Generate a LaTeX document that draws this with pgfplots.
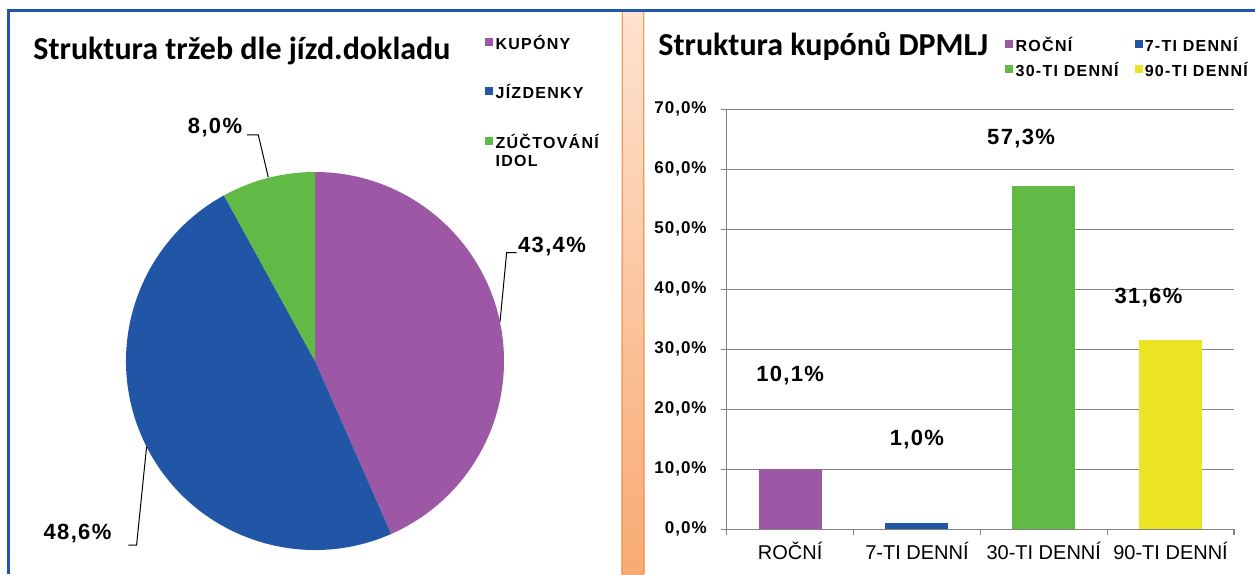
\documentclass[border=0pt]{standalone}
\usepackage{fontspec}
\setmainfont{Liberation Sans}
\newfontfamily\calibri{Carlito}
\newfontfamily\legfont[LetterSpace=8]{Liberation Sans}
\newfontfamily\numfont[LetterSpace=6]{Liberation Sans}
\usepackage{pgfplots}
\pgfplotsset{compat=1.18}
\definecolor{kup}{HTML}{9C57A5}
\definecolor{jiz}{HTML}{2155A5}
\definecolor{zuc}{HTML}{61B946}
\definecolor{yel}{HTML}{EAE422}
\definecolor{brd}{HTML}{2155A8}
\definecolor{grd}{HTML}{828282}
\definecolor{stripA}{HTML}{FDE3D0}
\definecolor{stripB}{HTML}{F8AA72}
\definecolor{stripE}{HTML}{F39A5C}

% pie data (percent)
\def\kupv{43.4}
\def\jizv{48.6}
\def\zucv{8.0}
\pgfmathsetmacro\angA{90-3.6*\kupv}
\pgfmathsetmacro\angB{\angA-3.6*\jizv}
\pgfmathsetmacro\angC{\angB-3.6*\zucv}

\newcommand\ent[1]{\begin{tabular}[t]{@{}l@{}}#1\end{tabular}}
\pgfplotsset{sq/.style={legend image code/.code={\fill[#1] (0pt,-0.75pt) rectangle (3.5pt,2.75pt);}}}

\begin{document}
\begin{tikzpicture}
\path[use as bounding box] (0,0) rectangle (627.5pt,287pt);
% separator strip
\shade[top color=stripA, bottom color=stripB] (310.85pt,0) rectangle (322.15pt,281.5pt);
\draw[stripE, line width=0.7pt] (311.2pt,0) -- (311.2pt,281.5pt) (321.8pt,0) -- (321.8pt,281.5pt);
% frame
\draw[brd, line width=1.5pt] (4pt,0) -- (4pt,281.5pt) -- (627.5pt,281.5pt);

% ---------------- pie ----------------
\begin{axis}[at={(157.5pt,106.5pt)}, anchor=center, scale only axis,
  width=189pt, height=189pt, xmin=-1, xmax=1, ymin=-1, ymax=1,
  hide axis, clip=false,
  title={\calibri\bfseries\fontsize{16}{18}\selectfont Struktura tržeb dle jízd.dokladu},
  title style={at={(axis description cs:-0.246,1.2646)}, anchor=base west, inner sep=0pt},
  legend cell align=left,
  legend style={draw=none, fill=none, inner sep=0pt,
    at={(axis description cs:0.9497,1.3622)}, anchor=north west,
    font=\legfont\bfseries\fontsize{8}{9.2}\selectfont,
    nodes={inner sep=0pt}, row sep=16pt,
    /tikz/every odd column/.append style={column sep=1.2pt}},
]
\fill[kup] (axis cs:0,0) -- (axis cs:0,1) arc[start angle=90, end angle=\angA, radius=94.5pt] -- cycle;
\fill[jiz] (axis cs:0,0) -- (axis cs:{cos(\angA)},{sin(\angA)}) arc[start angle=\angA, end angle=\angB, radius=94.5pt] -- cycle;
\fill[zuc] (axis cs:0,0) -- (axis cs:{cos(\angB)},{sin(\angB)}) arc[start angle=\angB, end angle=\angC, radius=94.5pt] -- cycle;

\addlegendimage{sq=kup}
\addlegendentry{\ent{KUPÓNY}}
\addlegendimage{sq=jiz}
\addlegendentry{\ent{JÍZDENKY}}
\addlegendimage{sq=zuc}
\addlegendentry{\ent{ZÚČTOVÁNÍ\\IDOL}}

% value labels with leader lines
\begin{scope}[font=\numfont\bfseries\fontsize{11}{13}\selectfont]
\node at (axis cs:1.254,0.606) {43,4\%};
\node at (axis cs:-1.2566,-0.915) {48,6\%};
\node at (axis cs:-0.529,1.235) {8,0\%};
\end{scope}
\draw[black, line width=0.5pt] (axis cs:-0.361,1.196) -- (axis cs:-0.300,1.196) -- (axis cs:-0.247,0.972);
\draw[black, line width=0.5pt] (axis cs:1.067,0.573) -- (axis cs:1.014,0.573) -- (axis cs:0.979,0.208);
\draw[black, line width=0.5pt] (axis cs:-0.988,-0.974) -- (axis cs:-0.944,-0.974) -- (axis cs:-0.891,-0.453);
\end{axis}

% ---------------- bars ----------------
\begin{axis}[at={(363.35pt,22.35pt)}, anchor=south west, scale only axis,
  width=253.65pt, height=210pt,
  xmin=-0.5, xmax=3.5, ymin=0, ymax=70,
  axis x line*=bottom, axis y line*=left,
  axis line style={grd, line width=0.6pt},
  ytick={0,10,...,70},
  ymajorgrids, grid style={grd, line width=0.6pt},
  tick align=outside, major tick length=3pt,
  tick style={grd, line width=0.6pt},
  /pgf/number format/assume math mode=true,
  yticklabel={\pgfmathprintnumber[fixed,fixed zerofill,precision=1,use comma]{\tick}\%},
  yticklabel style={font=\numfont\bfseries\fontsize{8.5}{10}\selectfont, xshift=-3.5pt},
  xtick={-0.5,0.5,1.5,2.5,3.5},
  xticklabels={ROČNÍ,7-TI DENNÍ,30-TI DENNÍ,90-TI DENNÍ,},
  xticklabel style={font=\fontsize{10}{12}\selectfont, xshift=31.7pt},
  ybar, bar width=31.5pt, bar shift=0pt,
  clip=false,
  title={\calibri\bfseries\fontsize{16}{18}\selectfont Struktura kupónů DPMLJ},
  title style={at={(axis description cs:-0.1354,1.1007)}, anchor=base west, inner sep=0pt},
]
\addplot[fill=kup, draw=none] coordinates {(0,10.1)};
\addplot[fill=jiz, draw=none] coordinates {(1,1.0)};
\addplot[fill=zuc, draw=none] coordinates {(2,57.3)};
\addplot[fill=yel, draw=none] coordinates {(3,31.6)};
\begin{scope}[font=\numfont\bfseries\fontsize{11}{13}\selectfont]
\node at (axis cs:0,25.55) {10,1\%};
\node at (axis cs:1,14.9) {1,0\%};
\node at (axis cs:1.821,65.2) {57,3\%};
\node at (axis cs:2.826,38.6) {31,6\%};
\end{scope}
\end{axis}

% legend of the bar chart (hidden axis on the same box)
\begin{axis}[at={(363.35pt,22.35pt)}, anchor=south west, scale only axis,
  width=253.65pt, height=210pt, hide axis, xmin=0, xmax=1, ymin=0, ymax=1,
  legend columns=2,
  legend cell align=left,
  legend style={draw=none, fill=none, inner sep=0pt,
    at={(0.5486,1.173)}, anchor=north west,
    font=\legfont\bfseries\fontsize{8}{9.2}\selectfont,
    nodes={inner sep=0pt}, row sep=4.15pt,
    /tikz/every odd column/.append style={column sep=1.2pt}},
]
\addlegendimage{sq=kup}
\addlegendentry{\ent{\makebox[59.5pt][l]{ROČNÍ}}}
\addlegendimage{sq=jiz}
\addlegendentry{\ent{7-TI DENNÍ}}
\addlegendimage{sq=zuc}
\addlegendentry{\ent{\makebox[59.5pt][l]{30-TI DENNÍ}}}
\addlegendimage{sq=yel}
\addlegendentry{\ent{90-TI DENNÍ}}
\end{axis}
\end{tikzpicture}
\end{document}
